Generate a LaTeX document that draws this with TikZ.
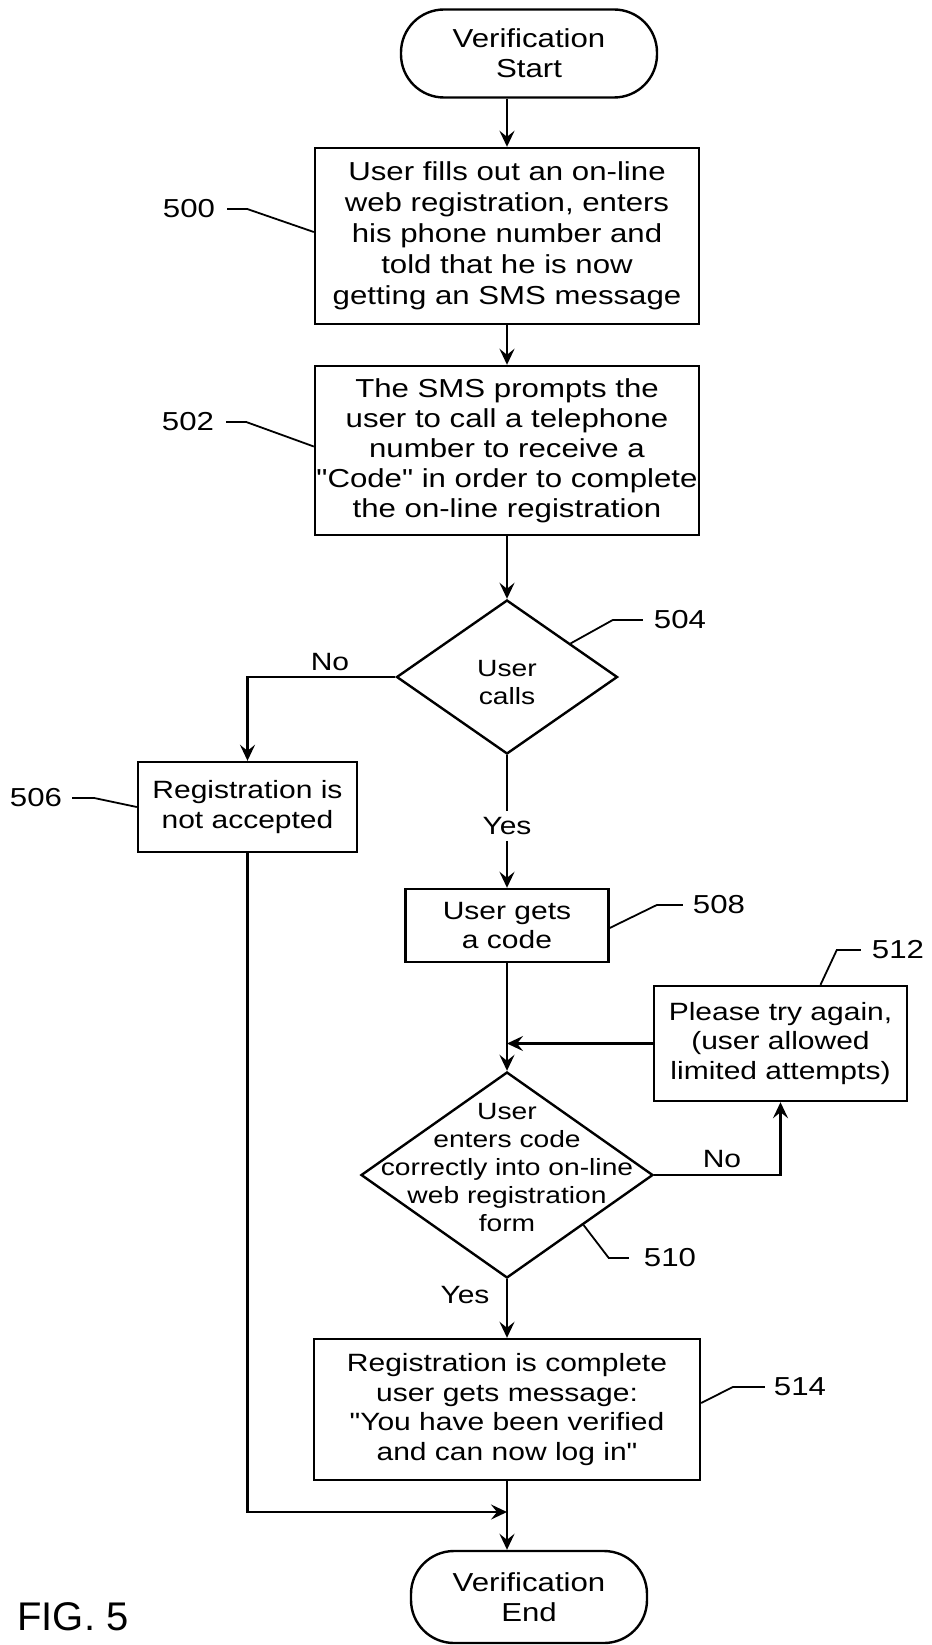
\documentclass[tikz,border=0pt]{standalone}
\usepackage{fontspec}
\setmainfont{Liberation Sans}[FakeStretch=1.2,Ligatures=TeXOff]
\newfontfamily\figfont{Liberation Sans}
\usetikzlibrary{shapes.geometric,arrows.meta,calc}
\begin{document}
\begin{tikzpicture}[x=1pt,y=-1pt,
  ln/.style={line width=2.4pt,draw=black},
  arr/.style={ln,-{Stealth[length=16pt,width=15pt,inset=6pt]}},
  lead/.style={line width=1.8pt},
  term/.style={draw,line width=2.4pt,rounded corners=43pt,minimum width=256pt,minimum height=88pt,inner sep=0pt,align=center,font=\fontsize{26}{30}\selectfont},
  bigbox/.style={draw,line width=2.4pt,minimum width=384pt,inner sep=0pt,align=center,font=\fontsize{26}{31}\selectfont},
  smallbox/.style={draw,line width=2.4pt,inner sep=0pt,align=center,font=\fontsize{25}{29.5}\selectfont},
  dia/.style={draw,diamond,line width=2.4pt,inner sep=0pt},
  dtext/.style={align=center,font=\fontsize{23.5}{28}\selectfont,inner sep=0pt},
  lab/.style={font=\fontsize{26}{30}\selectfont,inner sep=0pt},
  yn/.style={font=\fontsize{25}{30}\selectfont,inner sep=1pt}
]
\useasboundingbox (0,0) rectangle (931,1645);

% main nodes
\node[term] (start) at (529,53.5) {Verification\\Start};
\node[bigbox,minimum height=176pt] (b500) at (507,236) {User fills out an on-line\\web registration, enters\\his phone number and\\told that he is now\\getting an SMS message};
\node[bigbox,minimum height=169pt,font=\fontsize{26}{30}\selectfont] (b502) at (507,450.5) {The SMS prompts the\\user to call a telephone\\number to receive a\\"Code" in order to complete\\the on-line registration};
\node[dia,minimum width=221pt,minimum height=154pt] (d504) at (507,677) {};
\node[dtext] (t504) at (507,683) {User\\calls};
\node[smallbox,minimum width=219pt,minimum height=90pt] (b506) at (247.5,807) {Registration is\\not accepted};
\node[smallbox,minimum width=203pt,minimum height=73pt] (b508) at (507,925.5) {User gets\\a code};
\node[smallbox,minimum width=253pt,minimum height=115pt] (b512) at (780.5,1043.5) {Please try again,\\(user allowed\\limited attempts)};
\node[dia,minimum width=292pt,minimum height=206pt] (d510) at (507,1175) {};
\node[dtext] (t510) at (507,1168) {User\\enters code\\correctly into on-line\\web registration\\form};
\node[smallbox,minimum width=386pt,minimum height=141pt] (b514) at (507,1409.5) {Registration is complete\\user gets message:\\"You have been verified\\and can now log in"};
\node[term,minimum width=236pt,minimum height=92pt] (endt) at (529,1597) {Verification\\End};
\node[inner sep=0pt,font=\figfont\fontsize{40}{44}\selectfont] (fig) at (73,1617) {FIG. 5};

% yes/no labels
\node[yn] (no504) at (330,662) {No};
\node[yn,inner sep=6pt] (yes504) at (507,826) {Yes};
\node[yn] (no510) at (722,1159) {No};
\node[yn] (yes510) at (465,1295) {Yes};

\coordinate (merge) at (507,1512);
\coordinate (j510) at (b508.south |- b512.west);
\coordinate (sbot) at (b500.north |- start.south);
\coordinate (etop) at (b514.south |- endt.north);

% connectors
\draw[arr] (sbot) -- (b500.north);
\draw[arr] (b500.south) -- (b502.north);
\draw[arr] (b502.south) -- (d504.north);
\draw[arr] (d504.west) -| (b506.north);
\draw[ln] (d504.south) -- (yes504.north);
\draw[arr] (yes504.south) -- (b508.north);
\draw[arr] (b508.south) -- (d510.north);
\draw[arr] (b512.west) -- (j510);
\draw[arr] (d510.east) -| (b512.south);
\draw[arr] (d510.south) -- (b514.north);
\draw[arr] (b506.south) |- (merge);
\draw[arr] (b514.south) -- (etop);

% reference numerals
\node[lab] (l500) at (189,209) {500};
\node[lab] (l502) at (188,422) {502};
\node[lab] (l504) at (680,620) {504};
\node[lab] (l506) at (36,798) {506};
\node[lab] (l508) at (719,905) {508};
\node[lab] (l512) at (898,950) {512};
\node[lab] (l510) at (670,1258) {510};
\node[lab] (l514) at (800,1387) {514};

\draw[lead] ([xshift=12pt]l500.east) -- ++(20,0) -- ([yshift=4pt]b500.west);
\draw[lead] ([xshift=12pt]l502.east) -- ++(20,0) -- ([yshift=4pt]b502.west);
\draw[lead] ([xshift=-11pt]l504.west) -- ++(-30,0) -- ($(d504.north)!0.57!(d504.east)$);
\draw[lead] ([xshift=10pt]l506.east) -- ++(22,0) -- (b506.west);
\draw[lead] ([xshift=-10pt]l508.west) -- ++(-26,0) -- ([yshift=-2.5pt]b508.east);
\draw[lead] ([xshift=-11pt]l512.west) -- ++(-24,0) -- ([xshift=40pt]b512.north);
\draw[lead] ($(d510.east)!0.48!(d510.south)$) -- ([xshift=-35pt]l510.west) -- ([xshift=-15pt]l510.west);
\draw[lead] ([xshift=-9pt]l514.west) -- ++(-32,0) -- ([yshift=6.5pt]b514.east);
\end{tikzpicture}
\end{document}
